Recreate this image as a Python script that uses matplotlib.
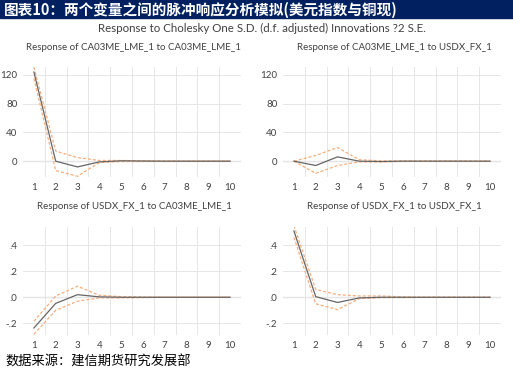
import matplotlib
matplotlib.use("Agg")
import matplotlib.pyplot as plt

plt.rcParams["font.family"] = ["Lato", "Noto Sans CJK SC", "DejaVu Sans"]

PERIODS = list(range(1, 11))

# response of CA03ME_LME_1 to CA03ME_LME_1
P1_MEAN = [124, 0, -8, -1, 0.5, 0.2, 0, 0, 0, 0]
P1_UP = [131, 14, 5, 1, 1, 0.5, 0.3, 0, 0, 0]
P1_LO = [115, -13, -21, -2, -0.5, -0.3, -0.2, 0, 0, 0]

# response of CA03ME_LME_1 to USDX_FX_1
P2_MEAN = [0, -6, 6, 0, -0.5, 0, 0, 0, 0, 0]
P2_UP = [0, 8, 19, 2, 0.5, 0.5, 0.3, 0.2, 0, 0]
P2_LO = [0, -17, -6, -1, -1, -0.3, -0.2, 0, 0, 0]

# response of USDX_FX_1 to CA03ME_LME_1
P3_MEAN = [-0.236, -0.047, 0.02, 0.003, 0, 0, 0, 0, 0, 0]
P3_UP = [-0.185, 0.01, 0.085, 0.015, 0.005, 0.002, 0, 0, 0, 0]
P3_LO = [-0.285, -0.1, -0.03, -0.005, -0.005, -0.002, 0, 0, 0, 0]

# response of USDX_FX_1 to USDX_FX_1
P4_MEAN = [0.51, 0.005, -0.04, -0.005, 0, 0, 0, 0, 0, 0]
P4_UP = [0.55, 0.06, 0.02, 0.01, 0.01, 0.003, 0, 0, 0, 0]
P4_LO = [0.46, -0.05, -0.095, -0.01, -0.003, -0.002, 0, 0, 0, 0]

PANELS = [
    ("Response of CA03ME_LME_1 to CA03ME_LME_1", P1_MEAN, P1_UP, P1_LO),
    ("Response of CA03ME_LME_1 to USDX_FX_1", P2_MEAN, P2_UP, P2_LO),
    ("Response of USDX_FX_1 to CA03ME_LME_1", P3_MEAN, P3_UP, P3_LO),
    ("Response of USDX_FX_1 to USDX_FX_1", P4_MEAN, P4_UP, P4_LO),
]
TOP_TICKS = [0, 40, 80, 120]
TOP_LABELS = ["0", "40", "80", "120"]
BOT_TICKS = [-0.2, 0.0, 0.2, 0.4]
BOT_LABELS = ["-.2", ".0", ".2", ".4"]

W, H = 513, 370
MEAN_C, BAND_C = "#666666", "#f5b07e"
TXT = "#404040"

fig = plt.figure(figsize=(W / 100, H / 100), dpi=100)

# title bar
fig.patches.append(plt.Rectangle((0, 1 - 18 / H), 1, 18 / H, transform=fig.transFigure,
                                 color="#002060", zorder=0))
fig.text(4 / W, 1 - 9.5 / H, "图表10：两个变量之间的脉冲响应分析模拟(美元指数与铜现)",
         color="white", fontsize=10.5, fontweight="bold", va="center", ha="left",
         family=["Noto Sans CJK SC", "DejaVu Sans"])
fig.text(262 / W, 1 - 28 / H,
         "Response to Cholesky One S.D. (d.f. adjusted) Innovations ?2 S.E.",
         color=TXT, fontsize=8.3, ha="center", va="center")
fig.text(5 / W, 1 - 362 / H, "数据来源：建信期货研究发展部", color="black",
         fontsize=9.5, ha="left", va="center", family=["Noto Sans CJK SC", "DejaVu Sans"])

boxes = [(23, 241, 67, 177), (283, 501, 67, 177), (23, 241, 227, 335), (283, 501, 227, 335)]
for i, ((title, mean, up, lo), (l, r, t, b)) in enumerate(zip(PANELS, boxes)):
    ax = fig.add_axes([l / W, 1 - b / H, (r - l) / W, (b - t) / H])
    ax.plot(PERIODS, up, color=BAND_C, lw=0.9, ls=(0, (2.5, 1.5)), zorder=3)
    ax.plot(PERIODS, lo, color=BAND_C, lw=0.9, ls=(0, (2.5, 1.5)), zorder=3)
    ax.plot(PERIODS, mean, color=MEAN_C, lw=0.9, zorder=4)
    ax.set_xlim(0.5, 10.5)
    if i < 2:
        ax.set_ylim(-22, 131)
        ax.set_yticks(TOP_TICKS)
        ax.set_yticklabels(TOP_LABELS)
    else:
        ax.set_ylim(-0.29, 0.54)
        ax.set_yticks(BOT_TICKS)
        ax.set_yticklabels(BOT_LABELS)
    ax.set_xticks(PERIODS)
    ax.set_xticks([p + 0.5 for p in PERIODS[:-1]], minor=True)
    ax.grid(axis="y", which="major", color="#e6e6e6", lw=0.7)
    ax.grid(axis="x", which="minor", color="#e6e6e6", lw=0.7)
    ax.axhline(0, color="#d0d0d0", lw=0.9, zorder=1)
    ax.tick_params(which="both", length=0, labelsize=7, colors=TXT, pad=4)
    for s in ax.spines.values():
        s.set_visible(False)
    cx = (l + r) / 2 + 2
    fig.text(cx / W, 1 - (t - 20) / H, title, color=TXT, fontsize=7,
             ha="center", va="center")

fig.savefig("out.png", dpi=100)
